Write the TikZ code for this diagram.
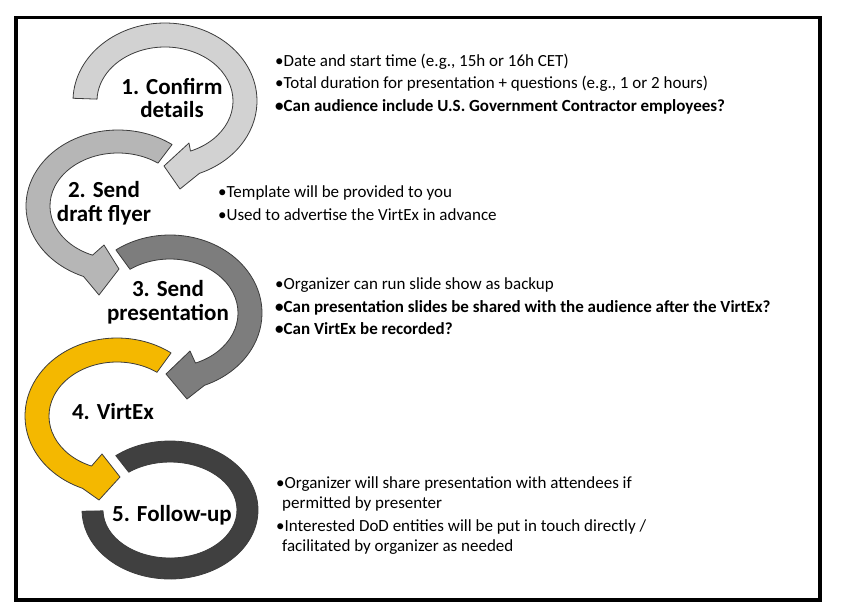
\documentclass[tikz,border=0pt]{standalone}
\usepackage{fontspec}
\setmainfont{Carlito}
\definecolor{cA}{RGB}{210,210,210}
\definecolor{cB}{RGB}{182,182,182}
\definecolor{cC}{RGB}{125,125,125}
\definecolor{cD}{RGB}{244,184,0}
\definecolor{cE}{RGB}{64,64,64}
\definecolor{edge}{RGB}{60,60,60}
\begin{document}
\begin{tikzpicture}[x=1pt,y=-1pt,
  band/.style={draw=edge, line width=0.8pt, line join=round},
  lbl/.style={font=\fontsize{23}{23.5}\selectfont\bfseries, align=center, inner sep=0pt},
  bul/.style={font=\fontsize{17}{22}\selectfont, anchor=base west, inner sep=0pt},
  bulb/.style={bul, font=\fontsize{17}{22}\selectfont\bfseries}]
\useasboundingbox (0,0) rectangle (845,614);
\draw[line width=3.5pt] (16,17.5) rectangle (820,600);

% arrow 1
\coordinate (c1) at (165,101);
\filldraw[band, fill=cA] ([shift={(c1)}]182:92 and 78) arc[start angle=182, end angle=428, x radius=92, y radius=78]
  -- (180,189) -- (164,166) -- (189,143) -- ([shift={(c1)}]428:68 and 54)
  arc[start angle=428, end angle=182, x radius=68, y radius=54] -- cycle;
% arrow 2
\coordinate (c2) at (118,206);
\filldraw[band, fill=cB] ([shift={(c2)}]306:92 and 76) arc[start angle=306, end angle=112, x radius=92, y radius=76]
  -- (99,295) -- (119,269) -- (104,245) -- ([shift={(c2)}]112:68 and 53)
  arc[start angle=112, end angle=306, x radius=68, y radius=53] -- cycle;
% arrow 3
\coordinate (c3) at (170,313);
\filldraw[band, fill=cC] ([shift={(c3)}]234:92 and 78) arc[start angle=234, end angle=428, x radius=92, y radius=78]
  -- (187,399) -- (166,374) -- (190,351) -- ([shift={(c3)}]428:68 and 54)
  arc[start angle=428, end angle=234, x radius=68, y radius=54] -- cycle;
% arrow 4
\coordinate (c4) at (117,416);
\filldraw[band, fill=cD] ([shift={(c4)}]306:92 and 78) arc[start angle=306, end angle=112, x radius=92, y radius=78]
  -- (99,500) -- (120,477) -- (102,454) -- ([shift={(c4)}]112:68 and 54)
  arc[start angle=112, end angle=306, x radius=68, y radius=54] -- cycle;
% ring 5
\coordinate (c5) at (170,510);
\filldraw[band, fill=cE] ([shift={(c5)}]232:88 and 69) arc[start angle=232, end angle=539, x radius=88, y radius=69]
  -- ([shift={(c5)}]539:67 and 48)
  arc[start angle=539, end angle=232, x radius=67, y radius=48] -- cycle;

\node[lbl] (l1) at (172,98) {1. Confirm\\details};
\node[lbl] (l2) at (104,203) {2. Send\\draft flyer};
\node[lbl] (l3) at (168,302) {3. Send\\presentation};
\node[lbl] (l4) at (113,412) {4. VirtEx};
\node[lbl] (l5) at (172,515) {5. Follow-up};

\node[bul] (t11) at (275,66) {•Date and start time (e.g., 15h or 16h CET)};
\node[bul] (t12) at (275,88.5) {•Total duration for presentation + questions (e.g., 1 or 2 hours)};
\node[bulb] (t13) at (275,111) {•Can audience include U.S. Government Contractor employees?};
\node[bul] (t21) at (218,197) {•Template will be provided to you};
\node[bul] (t22) at (218,220) {•Used to advertise the VirtEx in advance};
\node[bul] (t31) at (275,289) {•Organizer can run slide show as backup};
\node[bulb] (t32) at (275,312) {•Can presentation slides be shared with the audience after the VirtEx?};
\node[bulb] (t33) at (275,334) {•Can VirtEx be recorded?};
\node[bul] (t51) at (276,488) {•Organizer will share presentation with attendees if};
\node[bul] (t52) at (282,508) {permitted by presenter};
\node[bul] (t53) at (276,531) {•Interested DoD entities will be put in touch directly /};
\node[bul] (t54) at (282,551) {facilitated by organizer as needed};
\end{tikzpicture}
\end{document}
